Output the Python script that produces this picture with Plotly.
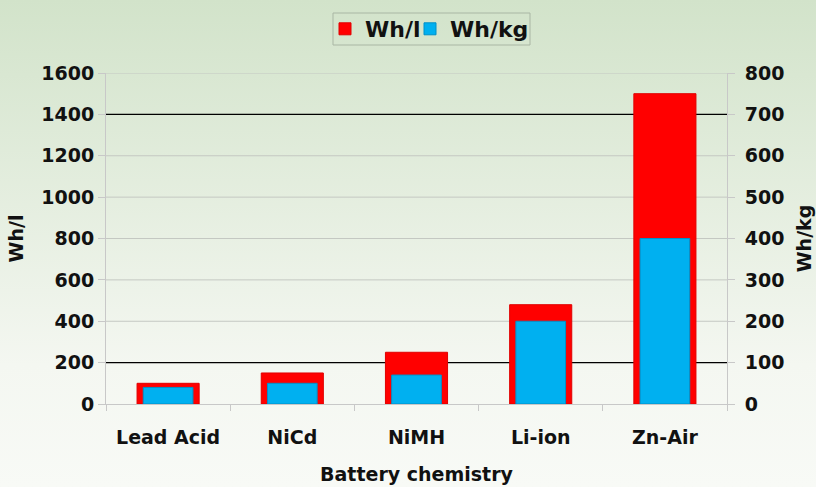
import base64
import plotly.graph_objects as go

categories = ["Lead Acid", "NiCd", "NiMH", "Li-ion", "Zn-Air"]
wh_per_l = [100, 150, 250, 480, 1500]
wh_per_kg = [40, 50, 70, 200, 400]
left_ticks = [0, 200, 400, 600, 800, 1000, 1200, 1400, 1600]
right_ticks = [0, 100, 200, 300, 400, 500, 600, 700, 800]
dark_grid_values = [200, 1400]

FONT = dict(family="DejaVu Sans", size=19, color="#111111", weight="bold")
LEGEND_FONT = dict(family="DejaVu Sans", size=22, color="#111111", weight="bold")

W, H = 816, 487
L, R, T, B = 106, 89, 73, 83
pw, ph = W - L - R, H - T - B


def px_x(x):
    return (x - L) / pw


def px_y(y):
    return 1 - (y - T) / ph


svg = (
    '<svg xmlns="http://www.w3.org/2000/svg" width="100" height="100" preserveAspectRatio="none">'
    '<defs><linearGradient id="g" x1="0" y1="0" x2="0" y2="1">'
    '<stop offset="0" stop-color="#d2e3ca"/><stop offset="0.75" stop-color="#f4f7f1"/>'
    '<stop offset="1" stop-color="#f8faf6"/></linearGradient></defs>'
    '<rect width="100" height="100" fill="url(#g)"/></svg>'
)
bg_src = "data:image/svg+xml;base64," + base64.b64encode(svg.encode()).decode()

fig = go.Figure()
fig.add_trace(go.Bar(
    x=categories, y=wh_per_l, name="Wh/l", yaxis="y", legend="legend",
    marker=dict(color="#ff0000", line=dict(color="#e00000", width=1)),
    width=0.5,
))
fig.add_trace(go.Bar(
    x=categories, y=wh_per_kg, name="Wh/kg", yaxis="y2", legend="legend2",
    marker=dict(color="#00b0f0", line=dict(color="#0090c8", width=1)),
    width=0.4,
))

shapes = []
for v in left_ticks[1:]:
    dark = v in dark_grid_values
    shapes.append(dict(type="line", xref="paper", yref="y", x0=0, x1=1, y0=v, y1=v,
                       line=dict(color="#000000" if dark else "#c4c8c2", width=1.2 if dark else 1),
                       layer="below"))
shapes.append(dict(type="rect", xref="paper", yref="paper",
                   x0=px_x(333), x1=px_x(530), y0=px_y(45), y1=px_y(13),
                   line=dict(color="#a9b6a4", width=1), fillcolor="rgba(0,0,0,0)"))

legend_common = dict(
    orientation="h", yanchor="middle", xanchor="left",
    borderwidth=0, bgcolor="rgba(0,0,0,0)", font=LEGEND_FONT,
)

fig.update_layout(
    width=W, height=H,
    margin=dict(l=L, r=R, t=T, b=B, autoexpand=False),
    paper_bgcolor="rgba(0,0,0,0)",
    plot_bgcolor="rgba(0,0,0,0)",
    barmode="overlay",
    font=FONT,
    showlegend=True,
    legend=dict(x=px_x(325), y=px_y(29), **legend_common),
    legend2=dict(x=px_x(410), y=px_y(29), **legend_common),
    xaxis=dict(
        showline=True, linecolor="#c8c8c8", linewidth=1,
        ticks="outside", tickson="boundaries", ticklen=6, tickcolor="#c8c8c8",
        ticklabelstandoff=16,
        title=dict(text="Battery chemistry", standoff=20, font=FONT),
        tickfont=FONT,
    ),
    yaxis=dict(
        range=[0, 1600], tickvals=left_ticks,
        showgrid=False,
        showline=True, linecolor="#c8c8c8", linewidth=1,
        ticks="outside", ticklen=7, tickcolor="#c8c8c8",
        zeroline=False,
        title=dict(text="Wh/l", standoff=12, font=FONT),
        tickfont=FONT,
    ),
    yaxis2=dict(
        range=[0, 800], tickvals=right_ticks, overlaying="y", side="right",
        showgrid=False, zeroline=False,
        showline=True, linecolor="#c8c8c8", linewidth=1,
        ticks="outside", ticklen=7, tickcolor="#c8c8c8",
        ticklabelstandoff=6,
        title=dict(text="Wh/kg", standoff=14, font=FONT),
        tickfont=FONT,
    ),
    shapes=shapes,
    images=[dict(
        source=bg_src, xref="paper", yref="paper",
        x=-L / pw, y=1 + T / ph, sizex=W / pw, sizey=H / ph,
        xanchor="left", yanchor="top", sizing="stretch", layer="below",
    )],
)

fig.write_html(
    "out.html",
    config={"displayModeBar": False},
    post_script="document.body.style.margin='0';document.body.style.overflow='hidden';",
)
